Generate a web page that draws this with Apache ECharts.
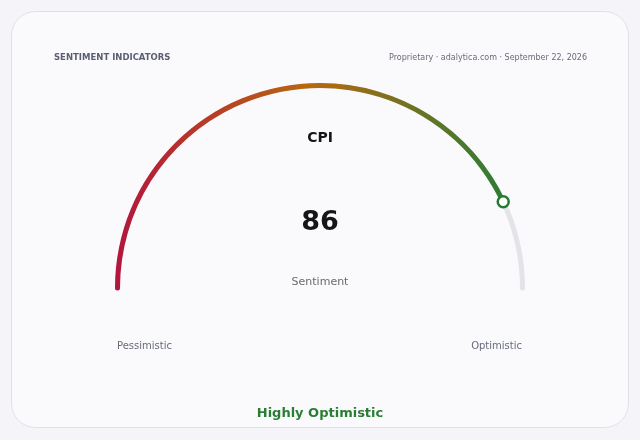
<!DOCTYPE html>
<html>
<head>
<meta charset="utf-8">
<script src="https://cdn.jsdelivr.net/npm/echarts@6/dist/echarts.min.js"></script>
<style>
  html, body { margin: 0; padding: 0; background: #f5f5f9; }
  #chart { width: 640px; height: 440px; }
</style>
</head>
<body>
<div id="chart"></div>
<script>
// gauge data
var gaugeName = 'CPI';
var gaugeValue = 86;
var gaugeMin = 0;
var gaugeMax = 100;
var gaugeUnit = 'Sentiment';
var gaugeEnds = ['Pessimistic', 'Optimistic'];
var gaugeVerdict = 'Highly Optimistic';
var headerLeft = 'SENTIMENT INDICATORS';
var headerRight = 'Proprietary · adalytica.com · September 22, 2026';

var font = 'DejaVu Sans';
var myChart = echarts.init(document.getElementById('chart'));

// gradient red -> orange -> green along the arc
var progressColor = new echarts.graphic.LinearGradient(0, 0, 1, 0, [
    { offset: 0, color: '#b3153e' },
    { offset: 0.2, color: '#b7352a' },
    { offset: 0.5, color: '#b8680f' },
    { offset: 1, color: '#2b7d34' }
]);

var option = {
    animation: false,
    graphic: [{
        type: 'rect',
        z: -10,
        shape: { x: 11.5, y: 11.5, width: 617, height: 416, r: 24 },
        style: { fill: '#fafafd', stroke: '#dfdfe8', lineWidth: 1 }
    }],
    title: [
        {
            text: headerLeft, left: 54, top: 53, padding: 0,
            textStyle: { fontFamily: font, fontSize: 8.5, fontWeight: 'bold', color: '#5b5e72' }
        },
        {
            text: headerRight, right: 53, top: 54, padding: 0,
            textStyle: { fontFamily: font, fontSize: 8, fontWeight: 'normal', color: '#686b7c' }
        },
        {
            text: gaugeUnit, left: 320, top: 277, textAlign: 'center', padding: 0,
            textStyle: { fontFamily: font, fontSize: 11, fontWeight: 'normal', color: '#6a6a70' }
        },
        {
            text: gaugeEnds[0], left: 117, top: 341, padding: 0,
            textStyle: { fontFamily: font, fontSize: 10, fontWeight: 'normal', color: '#686b7c' }
        },
        {
            text: gaugeEnds[1], right: 118, top: 341, padding: 0,
            textStyle: { fontFamily: font, fontSize: 10, fontWeight: 'normal', color: '#686b7c' }
        },
        {
            text: gaugeVerdict, left: 320, top: 407, textAlign: 'center', padding: 0,
            textStyle: { fontFamily: font, fontSize: 13, fontWeight: 'bold', color: '#2b7d34' }
        }
    ],
    // polar only used to place the end marker on the arc
    polar: { center: [320, 288], radius: 202.5 },
    angleAxis: {
        type: 'value', min: gaugeMin, max: gaugeMax,
        startAngle: 180, endAngle: 0, clockwise: true, show: false
    },
    radiusAxis: { type: 'value', min: 0, max: 1, show: false },
    series: [
        {
            type: 'gauge',
            center: [320, 288],
            radius: 205,
            startAngle: 180,
            endAngle: 0,
            min: gaugeMin,
            max: gaugeMax,
            axisLine: {
                roundCap: true,
                lineStyle: { width: 5, color: [[1, '#e3e3e8']] }
            },
            progress: {
                show: true,
                width: 5,
                roundCap: true,
                itemStyle: { color: progressColor }
            },
            pointer: { show: false },
            anchor: { show: false },
            axisTick: { show: false },
            splitLine: { show: false },
            axisLabel: { show: false },
            title: {
                offsetCenter: [0, -150],
                fontFamily: font, fontSize: 14, fontWeight: 'bold', color: '#151515'
            },
            detail: {
                offsetCenter: [0, -65],
                fontFamily: font, fontSize: 27, fontWeight: 'bold', color: '#161616',
                formatter: '{value}'
            },
            data: [{ value: gaugeValue, name: gaugeName }]
        },
        {
            type: 'scatter',
            coordinateSystem: 'polar',
            symbol: 'circle',
            symbolSize: 11,
            z: 5,
            itemStyle: { color: '#ffffff', borderColor: '#237a31', borderWidth: 2.5, opacity: 1 },
            data: [[1, gaugeValue]]
        }
    ]
};
myChart.setOption(option);
</script>
</body>
</html>
